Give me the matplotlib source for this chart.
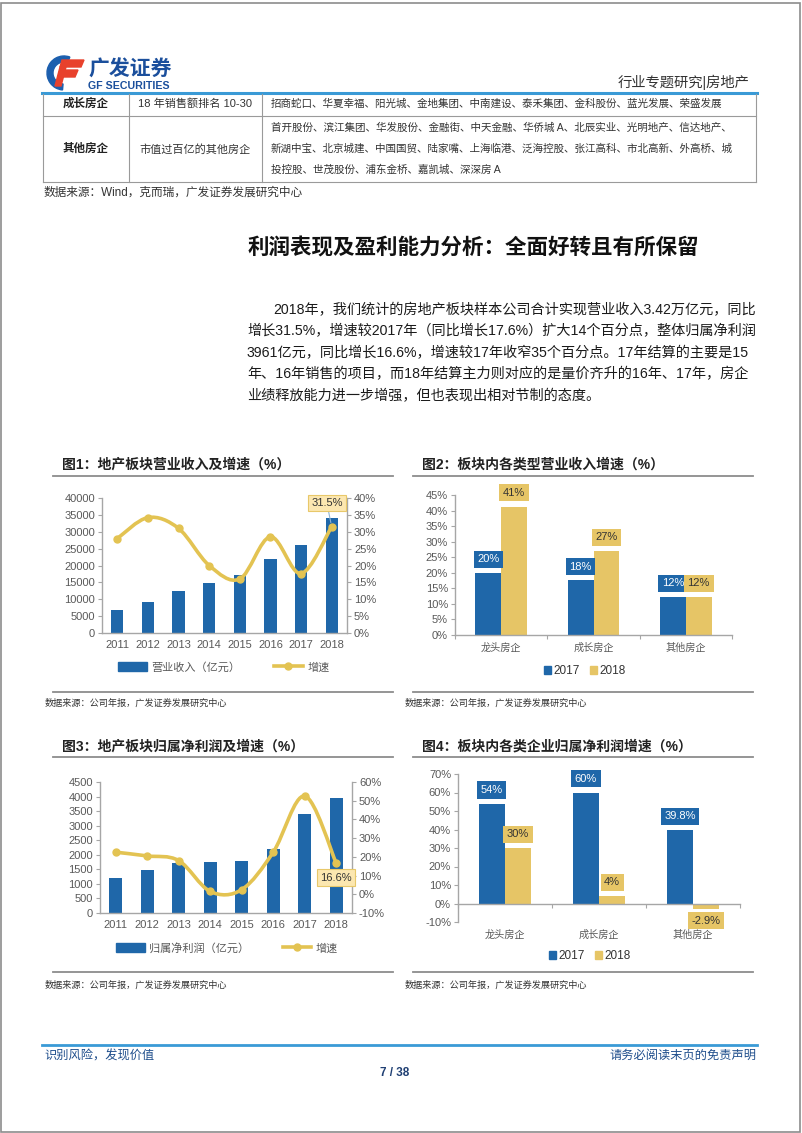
import numpy as np
import matplotlib
matplotlib.use('Agg')
import matplotlib.pyplot as plt
from matplotlib.path import Path
from matplotlib.patches import PathPatch, Rectangle, Wedge, Polygon
from matplotlib.lines import Line2D

plt.rcParams['font.family'] = ['Liberation Sans', 'Noto Sans CJK SC']

# ---- data ----
years = ['2011', '2012', '2013', '2014', '2015', '2016', '2017', '2018']
revenue = [6900, 9300, 12300, 14800, 17100, 22000, 26000, 34200]
revenue_growth = [28.0, 34.2, 31.0, 20.0, 16.0, 28.5, 17.6, 31.5]
profit = [1200, 1460, 1720, 1760, 1800, 2200, 3400, 3961]
profit_growth = [22.5, 20.5, 18.0, 1.5, 2.5, 22.5, 52.5, 16.6]

groups = ['龙头房企', '成长房企', '其他房企']
rev_2017 = [20.0, 17.6, 12.3]
rev_2018 = [41.3, 27.0, 12.2]
rev_lab_2017 = ['20%', '18%', '12%']
rev_lab_2018 = ['41%', '27%', '12%']
np_2017 = [54.0, 60.0, 39.8]
np_2018 = [30.0, 4.0, -2.9]
np_lab_2017 = ['54%', '60%', '39.8%']
np_lab_2018 = ['30%', '4%', '-2.9%']

paragraph = [
    '2018年，我们统计的房地产板块样本公司合计实现营业收入3.42万亿元，同比',
    '增长31.5%，增速较2017年（同比增长17.6%）扩大14个百分点，整体归属净利润',
    '3961亿元，同比增长16.6%，增速较17年收窄35个百分点。17年结算的主要是15',
    '年、16年销售的项目，而18年结算主力则对应的是量价齐升的16年、17年，房企',
    '业绩释放能力进一步增强，但也表现出相对节制的态度。',
]

BLUE = '#1F67A9'
GOLD = '#E6C566'
LGOLD = '#E3C352'
GRAY = '#595959'
SPINE = '#A6A6A6'

W, H = 802, 1133
fig = plt.figure(figsize=(W / 100, H / 100), dpi=100)


def px_axes(x0, y0, x1, y1):
    return fig.add_axes([x0 / W, 1 - y1 / H, (x1 - x0) / W, (y1 - y0) / H])


def ftext(x, y, s, **kw):
    kw.setdefault('va', 'center')
    fig.text(x / W, 1 - y / H, s, **kw)


def hline(x0, x1, y, color, lw):
    fig.add_artist(Line2D([x0 / W, x1 / W], [1 - y / H] * 2, color=color, lw=lw))


def vline(x, y0, y1, color, lw):
    fig.add_artist(Line2D([x / W] * 2, [1 - y0 / H, 1 - y1 / H], color=color, lw=lw))


def smooth_path(xs, ys):
    # excel-like smoothed line through the data points
    pts = np.column_stack([xs, ys]).astype(float)
    n = len(pts)
    verts, codes = [pts[0]], [Path.MOVETO]
    for i in range(n - 1):
        p0 = pts[max(i - 1, 0)]
        p1, p2 = pts[i], pts[i + 1]
        p3 = pts[min(i + 2, n - 1)]
        verts += [p1 + (p2 - p0) / 6, p2 - (p3 - p1) / 6, p2]
        codes += [Path.CURVE4] * 3
    return Path(verts, codes)


def style_spines(ax, keep):
    for k, s in ax.spines.items():
        s.set_visible(k in keep)
        s.set_color(SPINE)
        s.set_linewidth(1)


# ---- page frame ----
fig.add_artist(Rectangle((1 / W, 1 / H), (W - 3) / W, (H - 4) / H,
                         transform=fig.transFigure, fill=False, ec='#8C8C8C', lw=1.2))

# ---- header / logo ----
lg = px_axes(44, 54, 88, 92)
lg.set_xlim(44, 88)
lg.set_ylim(92, 54)
lg.axis('off')
lg.add_patch(Wedge((64, 73), 17, 95, 290, width=6, color='#1C5FAE'))
lg.add_patch(Polygon([[62, 60], [84, 60], [81, 67], [60, 67]], color='#E8412C'))
lg.add_patch(Polygon([[60, 70], [78, 70], [75, 77], [58, 77]], color='#E8412C'))
lg.add_patch(Polygon([[60, 67], [66, 67], [61, 86], [55, 86]], color='#E8412C'))
ftext(88, 70, '广发证券', fontsize=15, fontweight='bold', color='#1B4F9C')
ftext(88, 86, 'GF SECURITIES', fontsize=7.7, fontweight='bold', color='#1B4F9C')
ftext(750, 82, '行业专题研究|房地产', fontsize=10.3, color='#333333', ha='right')
hline(42, 757, 92.5, '#3A9AD6', 2.2)

# ---- table ----
TL = '#9A9A9A'
hline(43, 756, 116, TL, 0.8)
hline(43, 756, 181.5, TL, 0.8)
for xv in (43, 129, 262, 756):
    vline(xv, 93.5, 181.5, TL, 0.8)
ftext(86, 104, '成长房企', fontsize=8.3, fontweight='bold', ha='center', color='#222222')
ftext(195.5, 104, '18 年销售额排名 10-30', fontsize=8, ha='center', color='#333333')
ftext(271, 104, '招商蛇口、华夏幸福、阳光城、金地集团、中南建设、泰禾集团、金科股份、蓝光发展、荣盛发展',
      fontsize=7.6, color='#333333')
ftext(86, 149, '其他房企', fontsize=8.3, fontweight='bold', ha='center', color='#222222')
ftext(195.5, 149, '市值过百亿的其他房企', fontsize=8, ha='center', color='#333333')
ftext(271, 127.5, '首开股份、滨江集团、华发股份、金融街、中天金融、华侨城 A、北辰实业、光明地产、信达地产、',
      fontsize=7.6, color='#333333')
ftext(271, 148.5, '新湖中宝、北京城建、中国国贸、陆家嘴、上海临港、泛海控股、张江高科、市北高新、外高桥、城',
      fontsize=7.6, color='#333333')
ftext(271, 170, '投控股、世茂股份、浦东金桥、嘉凯城、深深房 A', fontsize=7.6, color='#333333')
ftext(44, 193, '数据来源：Wind，克而瑞，广发证券发展研究中心', fontsize=8.4, color='#333333')

# ---- heading and paragraph ----
ftext(248, 249, '利润表现及盈利能力分析：全面好转且有所保留', fontsize=15.5,
      fontweight='bold', color='#111111')
for i, line in enumerate(paragraph):
    ftext(273 if i == 0 else 247, 310 + i * 21.5, line, fontsize=10.2, color='#1A1A1A')


# ---- chart frames ----
def frame(x0, x1, title, y_title, y_ul, y_bl, y_src):
    ftext(x0 + 9, y_title, title, fontsize=10, fontweight='bold', color='#222222')
    hline(x0, x1, y_ul, '#8C8C8C', 1.3)
    hline(x0, x1, y_bl, '#8C8C8C', 1.3)
    ftext(x0 - 8, y_src, '数据来源：公司年报，广发证券发展研究中心', fontsize=6.6, color='#333333')


frame(53, 393, '图1：地产板块营业收入及增速（%）', 465, 476, 691.5, 703)
frame(413, 753, '图2：板块内各类型营业收入增速（%）', 465, 476, 691.5, 703)
frame(53, 393, '图3：地产板块归属净利润及增速（%）', 746.5, 757, 972, 985)
frame(413, 753, '图4：板块内各类企业归属净利润增速（%）', 746.5, 757, 972, 985)


def combo(rect, values, growth, bar_w, ylim_l, step_l, ylim_r, step_r,
          bar_name, legend_xy, note, note_off, leader):
    ax = px_axes(*rect)
    x = np.arange(len(years))
    ax.bar(x, values, bar_w, color=BLUE, zorder=2)
    ax.set_xlim(-0.5, len(years) - 0.5)
    ax.set_ylim(*ylim_l)
    ax.set_yticks(np.arange(ylim_l[0], ylim_l[1] + 1, step_l))
    ax.set_xticks(x, years)
    ax.tick_params(axis='x', length=0, labelsize=8, colors=GRAY, pad=5)
    ax.tick_params(axis='y', length=3, width=0.8, color=SPINE, labelsize=8,
                   labelcolor=GRAY, pad=2)
    style_spines(ax, ('left', 'bottom'))
    ax2 = ax.twinx()
    ax2.set_ylim(*ylim_r)
    rt = np.arange(ylim_r[0], ylim_r[1] + 1, step_r)
    ax2.set_yticks(rt, [f'{v:.0f}%' for v in rt])
    ax2.tick_params(axis='y', length=3, width=0.8, color=SPINE, labelsize=8,
                    labelcolor=GRAY, pad=2)
    style_spines(ax2, ('right',))
    ax2.add_patch(PathPatch(smooth_path(x, growth), fc='none', ec=LGOLD, lw=2.6,
                            capstyle='round'))
    ax2.plot(x, growth, 'o', color=LGOLD, ms=5, zorder=3)
    arrow = dict(arrowstyle='-', color='#8FB4D4', lw=0.8, shrinkA=0, shrinkB=3) if leader else None
    ax2.annotate(note, xy=(x[-1], growth[-1]), xytext=note_off, textcoords='offset points',
                 ha='center', va='center', fontsize=8, color='#333333',
                 bbox=dict(boxstyle='square,pad=0.3', fc='#FCE7B0', ec='#E8C86A', lw=0.8),
                 arrowprops=arrow, zorder=5)
    handles = [Rectangle((0, 0), 1, 1, color=BLUE),
               Line2D([], [], color=LGOLD, lw=2.6, marker='o', ms=5)]
    fig.legend(handles, [bar_name, '增速'], loc='center', ncol=2, frameon=False,
               bbox_to_anchor=(legend_xy[0] / W, 1 - legend_xy[1] / H),
               fontsize=8, handlelength=2.6, handleheight=0.8, columnspacing=3.0,
               handletextpad=0.4, labelcolor=GRAY)


combo((102, 498, 347, 633), revenue, revenue_growth, 0.4, (0, 40000), 5000, (0, 40), 5,
      '营业收入（亿元）', (224, 667), '31.5%', (-3.5, 17), True)
combo((100, 782, 352, 913), profit, profit_growth, 0.42, (0, 4500), 500, (-10, 60), 10,
      '归属净利润（亿元）', (227, 948), '16.6%', (0, -10.5), False)


def grouped(rect, v17, v18, l17, l18, ylim, step, legend_xy):
    ax = px_axes(*rect)
    x = np.arange(len(groups))
    w = 0.28
    ax.bar(x - w / 2, v17, w, color=BLUE, zorder=2)
    ax.bar(x + w / 2, v18, w, color=GOLD, zorder=2)
    ax.set_xlim(-0.5, len(groups) - 0.5)
    ax.set_ylim(*ylim)
    yt = np.arange(ylim[0], ylim[1] + 1, step)
    ax.set_yticks(yt, [f'{v:.0f}%' for v in yt])
    ax.set_xticks(np.arange(-0.5, len(groups)), [''] * (len(groups) + 1))
    ax.tick_params(axis='x', length=3, width=0.8, color=SPINE, direction='out')
    ax.tick_params(axis='y', length=3, width=0.8, color=SPINE, labelsize=8,
                   labelcolor=GRAY, pad=2)
    style_spines(ax, ('left', 'bottom'))
    ax.spines['bottom'].set_position(('data', 0))
    for xs, vals, labs, fc, tc in ((x - w / 2, v17, l17, BLUE, 'white'),
                                   (x + w / 2, v18, l18, GOLD, '#333333')):
        for xi, v, lab in zip(xs, vals, labs):
            off = 9.8 if v >= 0 else -8.6
            ax.annotate(lab, xy=(xi, v), xytext=(0, off), textcoords='offset points',
                        ha='center', va='center', fontsize=8, color=tc,
                        bbox=dict(boxstyle='square,pad=0.32', fc=fc, ec='none'),
                        annotation_clip=False, zorder=4)
    for xi, g in zip(x, groups):
        ax.annotate(g, xy=(xi, 0), xycoords=('data', 'axes fraction'), xytext=(0, -9.5),
                    textcoords='offset points', ha='center', va='center',
                    fontsize=7.3, color=GRAY)
    handles = [Rectangle((0, 0), 1, 1, color=BLUE), Rectangle((0, 0), 1, 1, color=GOLD)]
    fig.legend(handles, ['2017', '2018'], loc='center', ncol=2, frameon=False,
               bbox_to_anchor=(legend_xy[0] / W, 1 - legend_xy[1] / H),
               fontsize=8.5, handlelength=0.6, handleheight=0.6, columnspacing=0.9,
               handletextpad=0.2, labelcolor='#333333')


grouped((455, 495, 732, 635), rev_2017, rev_2018, rev_lab_2017, rev_lab_2018,
        (0, 45), 5, (585, 671))
grouped((458, 774, 740, 922), np_2017, np_2018, np_lab_2017, np_lab_2018,
        (-10, 70), 10, (590, 956))

# ---- footer ----
hline(42, 757, 1045, '#3A9AD6', 2.0)
ftext(44, 1056, '识别风险，发现价值', fontsize=8.8, color='#1F4E8C')
ftext(756, 1056, '请务必阅读末页的免责声明', fontsize=8.8, color='#1F4E8C', ha='right')
ftext(395, 1073, '7 / 38', fontsize=8.5, fontweight='bold', color='#1F3F73', ha='center')

fig.savefig('out.png', dpi=100)
